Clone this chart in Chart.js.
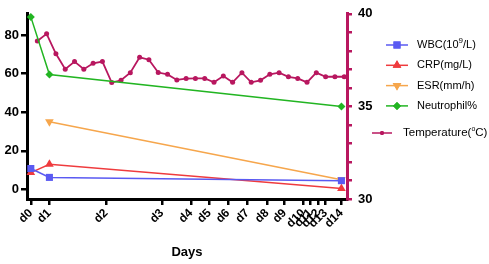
<!DOCTYPE html>
<html>
<head>
<meta charset="utf-8">
<script src="https://cdn.jsdelivr.net/npm/chart.js@4/dist/chart.umd.min.js"></script>
<style>
  html, body { margin: 0; padding: 0; background: #fff; }
  #wrap { width: 489px; height: 264px; }
</style>
</head>
<body>
<div id="wrap"><canvas id="c" width="489" height="264"></canvas></div>
<script>
// x axis runs in temperature-reading steps; day ticks sit at these positions
const dayLabels = ['d0', 'd1', 'd2', 'd3', 'd4', 'd5', 'd6', 'd7', 'd8', 'd9', 'd10', 'd11', 'd12', 'd13', 'd14'];
const dayPos = [-0.7, 1.3, 7.4, 13.4, 16.5, 18.5, 20.5, 22.6, 24.7, 26.6, 28.6, 29.4, 30.2, 31.0, 32.7];

// lab values measured on d0, d1 and d14
const labDays = [0, 1, 14];
const wbc = [10.8, 6.2, 4.5];
const crp = [8.7, 13, 0.5];
const esr = [null, 35, 5];
const neutrophil = [89.4, 59.5, 43];

// body temperature (°C), one reading per step
const temperature = [
  38.53, 38.92, 37.84, 37.01, 37.42, 37.01, 37.33, 37.42, 36.29, 36.41,
  36.82, 37.65, 37.52, 36.83, 36.73, 36.43, 36.50, 36.51, 36.51, 36.30,
  36.64, 36.30, 36.82, 36.30, 36.41, 36.73, 36.82, 36.60, 36.51, 36.30,
  36.82, 36.60, 36.60, 36.60,
];

const FONT = 'Arial, "Liberation Sans", sans-serif';
const MAROON = '#b8175f';
const colors = {
  wbc: '#5a5af2',
  crp: '#ef3b3e',
  esr: '#f6a64c',
  neutrophil: '#22b522',
};

const labPoints = (vals) => labDays.map((d, i) => ({ x: dayPos[d], y: vals[i] }));

const labSet = (label, vals, color, pointStyle, radius, rotation = 0) => ({
  label,
  data: labPoints(vals),
  borderColor: color,
  backgroundColor: color,
  borderWidth: 1.5,
  pointStyle,
  pointRadius: radius,
  pointRotation: rotation,
  pointBorderWidth: 0,
  yAxisID: 'y',
  spanGaps: true,
  clip: false,
});

// legend drawn by hand so it can sit beside the right axis
const legendPlugin = {
  id: 'sideLegend',
  afterDraw(chart) {
    const { ctx } = chart;
    const items = [
      { parts: [['WBC(10', 0], ['9', 1], ['/L)', 0]], color: colors.wbc, style: 'rect', r: 5, rot: 0 },
      { parts: [['CRP(mg/L)', 0]], color: colors.crp, style: 'triangle', r: 5, rot: 0 },
      { parts: [['ESR(mm/h)', 0]], color: colors.esr, style: 'triangle', r: 5, rot: 180 },
      { parts: [['Neutrophil%', 0]], color: colors.neutrophil, style: 'rectRot', r: 4, rot: 0 },
    ];
    ctx.save();
    ctx.textBaseline = 'middle';
    items.forEach((it, i) => {
      const y = 45 + i * 20.3;
      ctx.strokeStyle = it.color;
      ctx.fillStyle = it.color;
      ctx.lineWidth = 1.5;
      ctx.beginPath();
      ctx.moveTo(386, y);
      ctx.lineTo(408, y);
      ctx.stroke();
      Chart.helpers.drawPoint(ctx, { pointStyle: it.style, radius: it.r, rotation: it.rot, borderWidth: 0 }, 397, y);
      ctx.fill();
      let x = 417;
      ctx.fillStyle = '#000';
      it.parts.forEach(([t, sup]) => {
        ctx.font = (sup ? '8px ' : '11px ') + FONT;
        ctx.fillText(t, x, sup ? y - 4 : y);
        x += ctx.measureText(t).width;
      });
    });

    // temperature entry
    const ty = 133;
    ctx.strokeStyle = MAROON;
    ctx.fillStyle = MAROON;
    ctx.lineWidth = 1.5;
    ctx.beginPath();
    ctx.moveTo(372, ty);
    ctx.lineTo(392, ty);
    ctx.stroke();
    Chart.helpers.drawPoint(ctx, { pointStyle: 'circle', radius: 2, borderWidth: 0 }, 382, ty);
    ctx.fill();
    ctx.fillStyle = '#000';
    let x = 403;
    [['Temperature(', 0], ['o', 1], ['C)', 0]].forEach(([t, sup]) => {
      ctx.font = (sup ? '7px ' : '11.5px ') + FONT;
      ctx.fillText(t, x, sup ? ty - 4 : ty);
      x += ctx.measureText(t).width;
    });
    ctx.restore();
  },
};

new Chart(document.getElementById('c'), {
  type: 'line',
  data: {
    datasets: [
      labSet('WBC(10^9/L)', wbc, colors.wbc, 'rect', 5),
      labSet('CRP(mg/L)', crp, colors.crp, 'triangle', 5),
      labSet('ESR(mm/h)', esr, colors.esr, 'triangle', 5, 180),
      labSet('Neutrophil%', neutrophil, colors.neutrophil, 'rectRot', 4),
      {
        label: 'Temperature(°C)',
        data: temperature.map((t, i) => ({ x: i, y: t })),
        borderColor: MAROON,
        backgroundColor: MAROON,
        borderWidth: 1.8,
        pointRadius: 2.5,
        pointBorderWidth: 0,
        yAxisID: 'y1',
        clip: false,
      },
    ],
  },
  options: {
    responsive: false,
    animation: false,
    layout: { padding: { top: 10, left: 0, right: 0, bottom: 0 } },
    plugins: {
      legend: { display: false },
      tooltip: { enabled: false },
    },
    scales: {
      x: {
        type: 'linear',
        min: -1.11,
        max: 33.3,
        afterBuildTicks: (s) => { s.ticks = dayPos.map((v) => ({ value: v })); },
        afterFit: (s) => { s.height = 65; },
        ticks: {
          callback: (v, i) => dayLabels[i],
          autoSkip: false,
          minRotation: 45,
          maxRotation: 45,
          padding: 1,
          color: '#000',
          font: { family: FONT, size: 12, weight: 'bold' },
        },
        grid: {
          drawOnChartArea: false,
          drawTicks: true,
          tickLength: 6,
          color: '#000',
          lineWidth: 2.5,
        },
        border: { display: true, color: '#000', width: 3 },
        title: {
          display: true,
          text: 'Days',
          color: '#000',
          font: { family: FONT, size: 13, weight: 'bold' },
          padding: { top: 0, bottom: 4 },
        },
      },
      y: {
        type: 'linear',
        position: 'left',
        min: -5,
        max: 91,
        afterBuildTicks: (s) => { s.ticks = [0, 20, 40, 60, 80].map((v) => ({ value: v })); },
        afterFit: (s) => { s.width = 27; },
        ticks: {
          padding: 2,
          color: '#000',
          font: { family: FONT, size: 13, weight: 'bold' },
        },
        grid: {
          drawOnChartArea: false,
          drawTicks: true,
          tickLength: 6,
          color: '#000',
          lineWidth: 2.5,
        },
        border: { display: true, color: '#000', width: 3 },
      },
      y1: {
        type: 'linear',
        position: 'right',
        min: 30,
        max: 40,
        afterBuildTicks: (s) => { s.ticks = [30, 31, 32, 33, 34, 35, 36, 37, 38, 39, 40].map((v) => ({ value: v })); },
        afterFit: (s) => { s.width = 142; },
        ticks: {
          autoSkip: false,
          callback: (v) => (v % 5 === 0 ? v : ''),
          padding: 6,
          color: '#000',
          font: { family: FONT, size: 13, weight: 'bold' },
        },
        grid: {
          drawOnChartArea: false,
          drawTicks: true,
          tickLength: 5,
          color: MAROON,
          lineWidth: 2.5,
        },
        border: { display: true, color: MAROON, width: 3 },
      },
    },
  },
  plugins: [legendPlugin],
});
</script>
</body>
</html>
